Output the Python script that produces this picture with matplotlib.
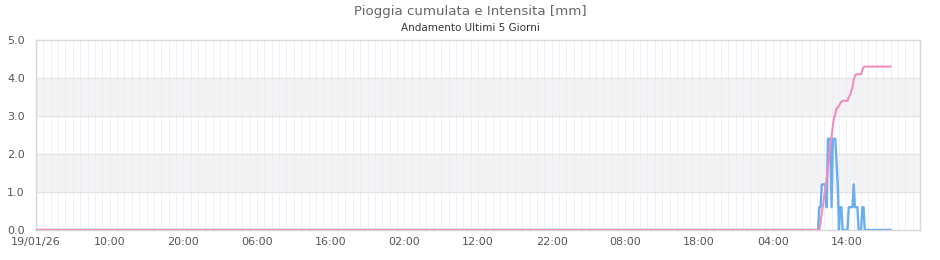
import numpy as np
import pandas as pd
import matplotlib
matplotlib.use("Agg")
import matplotlib.pyplot as plt
import matplotlib.dates as mdates
from matplotlib.ticker import FixedLocator, FuncFormatter

# serie a 10 minuti
start = pd.Timestamp("2026-01-19 00:00")
rain_start = pd.Timestamp("2026-01-23 10:10")
data_end = pd.Timestamp("2026-01-23 20:00")
axis_end = pd.Timestamp("2026-01-24 00:00")

# intensita [mm] durante l'evento (da 10:10 in poi)
intensita_evento = [0.0, 0.6, 0.6, 1.2, 1.2, 1.2, 1.2, 0.6, 2.4, 2.4,
                    2.4, 0.6, 2.4, 2.4, 2.4, 1.8, 1.2, 0.0, 0.6, 0.6,
                    0.0, 0.0, 0.0, 0.0, 0.0, 0.6, 0.6, 0.6, 0.6, 1.2,
                    0.6, 0.6, 0.6, 0.0, 0.0, 0.0, 0.6, 0.6, 0.0]
# pioggia cumulata [mm]
cumulata_evento = [0.0, 0.0, 0.2, 0.45, 0.65, 0.88, 1.1, 1.35, 1.6, 1.9,
                   2.2, 2.45, 2.75, 2.95, 3.05, 3.2, 3.22, 3.27, 3.33, 3.38,
                   3.4, 3.4, 3.4, 3.4, 3.4, 3.5, 3.55, 3.65, 3.75, 3.95,
                   4.05, 4.1, 4.1, 4.1, 4.1, 4.1, 4.2, 4.28, 4.3]

times = pd.date_range(start, data_end, freq="10min")
n_before = int((rain_start - start) / pd.Timedelta("10min"))
n_after = len(times) - n_before - len(intensita_evento)
intensita = np.concatenate([np.zeros(n_before), intensita_evento, np.zeros(n_after)])
cumulata = np.concatenate([np.zeros(n_before), cumulata_evento,
                           np.full(n_after, cumulata_evento[-1])])

fig = plt.figure(figsize=(9.4, 2.6), dpi=100)
ax = fig.add_axes([36 / 940, 30 / 260, 884 / 940, 190 / 260])

# bande orizzontali alternate
for y0 in [1, 3]:
    ax.axhspan(y0, y0 + 1, color="#f3f3f4", zorder=0)

# griglia oraria
for t in pd.date_range(start, axis_end, freq="1h"):
    ax.axvline(mdates.date2num(t), color="#ecebfa", lw=0.6, zorder=1)
for y in [1, 2, 3, 4]:
    ax.axhline(y, color="#e2e2e2", lw=0.8, zorder=1)

ax.plot(times, intensita, color="#6aaeef", lw=1.7, zorder=3)
ax.plot(times, cumulata, color="#f28cc0", lw=1.5, zorder=4)

ax.set_xlim(mdates.date2num(start), mdates.date2num(axis_end))
ax.set_ylim(0, 5)

xt = pd.date_range(start, periods=12, freq="10h")
ax.xaxis.set_major_locator(FixedLocator(mdates.date2num(xt)))

def fmt_x(v, pos):
    d = mdates.num2date(v)
    if pos == 0:
        return d.strftime("%d/%m/%y")
    return d.strftime("%H:%M")

ax.xaxis.set_major_formatter(FuncFormatter(fmt_x))
ax.set_yticks([0, 1, 2, 3, 4, 5])
ax.yaxis.set_major_formatter(FuncFormatter(lambda v, p: "%.1f" % v))
ax.tick_params(axis="both", length=0, labelsize=8, colors="#555555")
ax.tick_params(axis="x", pad=5)
ax.tick_params(axis="y", pad=8)

for s in ax.spines.values():
    s.set_color("#d6d6d6")
    s.set_linewidth(1)

fig.text(0.5, 1 - 11 / 260, "Pioggia cumulata e Intensita [mm]", ha="center",
         va="center", fontsize=9.6, color="#666666")
fig.text(0.5, 1 - 28 / 260, "Andamento Ultimi 5 Giorni", ha="center",
         va="center", fontsize=7.5, color="#333333")

fig.savefig("out.png", dpi=100)
